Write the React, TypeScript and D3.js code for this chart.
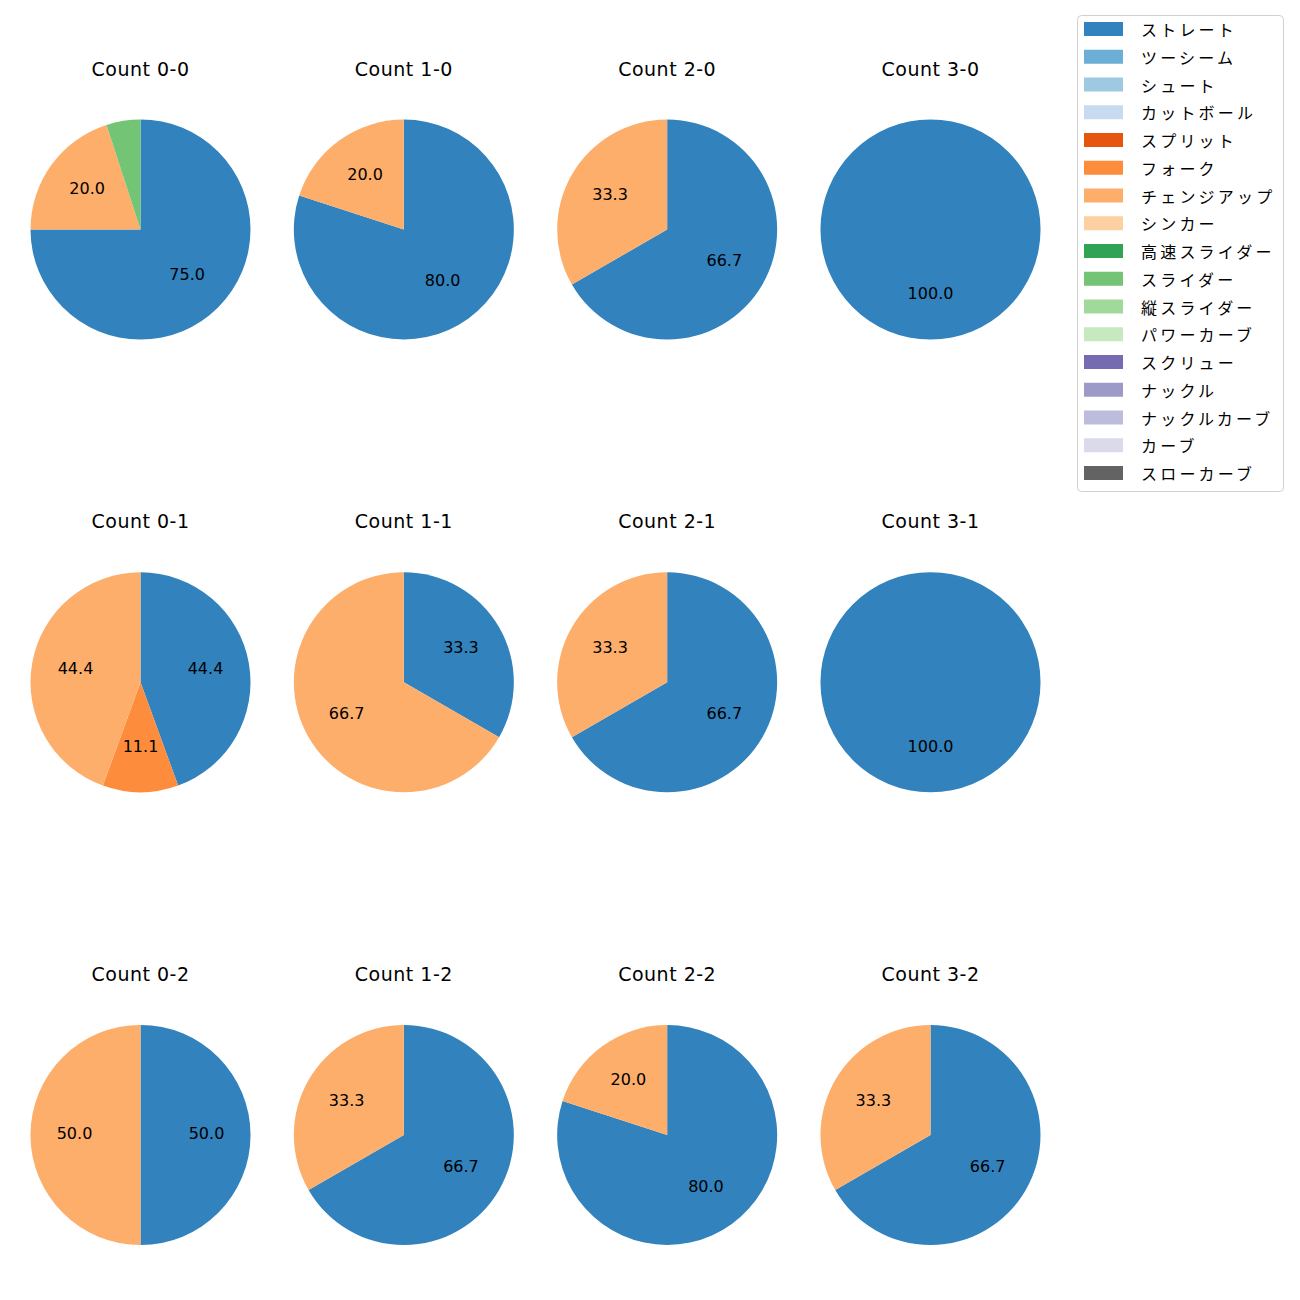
import React, { useEffect, useRef } from 'react';
import * as d3 from 'd3';

// pitch types in legend order, with tab20c colours
const pitchTypes = [
  'ストレート', 'ツーシーム', 'シュート', 'カットボール', 'スプリット', 'フォーク',
  'チェンジアップ', 'シンカー', '高速スライダー', 'スライダー', '縦スライダー',
  'パワーカーブ', 'スクリュー', 'ナックル', 'ナックルカーブ', 'カーブ', 'スローカーブ',
];
const pitchColors = [
  '#3182bd', '#6baed6', '#9ecae1', '#c6dbef', '#e6550d', '#fd8d3c',
  '#fdae6b', '#fdd0a2', '#31a354', '#74c476', '#a1d99b', '#c7e9c0',
  '#756bb1', '#9e9ac8', '#bcbddc', '#dadaeb', '#636363',
];

const countLabels = [
  ['Count 0-0', 'Count 1-0', 'Count 2-0', 'Count 3-0'],
  ['Count 0-1', 'Count 1-1', 'Count 2-1', 'Count 3-1'],
  ['Count 0-2', 'Count 1-2', 'Count 2-2', 'Count 3-2'],
];

// pitch counts per situation, [type, count]
const pies: [string, number][][][] = [
  [
    [['ストレート', 15], ['チェンジアップ', 4], ['スライダー', 1]],
    [['ストレート', 4], ['チェンジアップ', 1]],
    [['ストレート', 2], ['チェンジアップ', 1]],
    [['ストレート', 1]],
  ],
  [
    [['ストレート', 4], ['フォーク', 1], ['チェンジアップ', 4]],
    [['ストレート', 1], ['チェンジアップ', 2]],
    [['ストレート', 2], ['チェンジアップ', 1]],
    [['ストレート', 1]],
  ],
  [
    [['ストレート', 1], ['チェンジアップ', 1]],
    [['ストレート', 2], ['チェンジアップ', 1]],
    [['ストレート', 4], ['チェンジアップ', 1]],
    [['ストレート', 2], ['チェンジアップ', 1]],
  ],
];

const LATIN = '"DejaVu Sans", sans-serif';
const JP = '"Noto Sans CJK JP", sans-serif';

const App: React.FC = () => {
  const ref = useRef<SVGSVGElement>(null);

  useEffect(() => {
    const svg = d3.select(ref.current);
    svg.selectAll('*').remove();

    const color = d3.scaleOrdinal<string, string>().domain(pitchTypes).range(pitchColors);
    const x = d3.scaleLinear().domain([0, 3]).range([140.5, 930.5]);
    const y = d3.scaleLinear().domain([0, 2]).range([229.5, 1135]);
    const radius = 110;

    const pie = d3
      .pie<[string, number]>()
      .sort(null)
      .value((d) => d[1]);
    const arc = d3.arc<d3.PieArcDatum<[string, number]>>().innerRadius(0).outerRadius(radius);
    const labelArc = d3
      .arc<d3.PieArcDatum<[string, number]>>()
      .innerRadius(radius * 0.6)
      .outerRadius(radius * 0.6);

    pies.forEach((row, r) => {
      row.forEach((data, c) => {
        const total = d3.sum(data, (d) => d[1]);
        const g = svg.append('g').attr('transform', `translate(${x(c)},${y(r)})`);

        g.append('text')
          .attr('y', -161)
          .attr('text-anchor', 'middle')
          .attr('dominant-baseline', 'central')
          .attr('font-family', LATIN)
          .attr('font-size', 19)
          .attr('letter-spacing', 0.5)
          .text(countLabels[r][c]);

        const arcs = pie(data);
        g.selectAll('path.slice')
          .data(arcs)
          .join('path')
          .attr('class', 'slice')
          .attr('d', arc)
          .attr('fill', (d) => color(d.data[0]));

        // matplotlib autopct-style labels at 0.6 r, small wedges unlabeled
        g.selectAll('text.pct')
          .data(arcs.filter((d) => d.data[1] / total >= 0.1))
          .join('text')
          .attr('class', 'pct')
          .attr('transform', (d) =>
            total === d.data[1] ? `translate(0,${radius * 0.6})` : `translate(${labelArc.centroid(d)})`
          )
          .attr('dy', -2)
          .attr('text-anchor', 'middle')
          .attr('dominant-baseline', 'central')
          .attr('font-family', LATIN)
          .attr('font-size', 16)
          .text((d) => ((d.data[1] / total) * 100).toFixed(1));
      });
    });

    // legend
    const legend = svg.append('g').attr('transform', 'translate(1077,15)');
    legend
      .append('rect')
      .attr('x', 0.5)
      .attr('y', 0.5)
      .attr('width', 206)
      .attr('height', 476)
      .attr('rx', 4)
      .attr('fill', '#fff')
      .attr('stroke', '#d0d0d0');
    const ly = d3.scaleLinear().domain([0, pitchTypes.length - 1]).range([14, 458]);
    pitchTypes.forEach((t, i) => {
      legend
        .append('rect')
        .attr('x', 7)
        .attr('y', ly(i) - 7)
        .attr('width', 39)
        .attr('height', 14)
        .attr('fill', color(t));
      legend
        .append('text')
        .attr('x', 64)
        .attr('y', ly(i))
        .attr('dominant-baseline', 'central')
        .attr('font-family', JP)
        .attr('font-size', 16)
        .attr('letter-spacing', 3.2)
        .text(t);
    });
  }, []);

  return (
    <div style={{ position: 'absolute', left: 0, top: 0 }}>
      <svg ref={ref} width={1300} height={1300} style={{ display: 'block', background: '#fff' }} />
    </div>
  );
};

export default App;
